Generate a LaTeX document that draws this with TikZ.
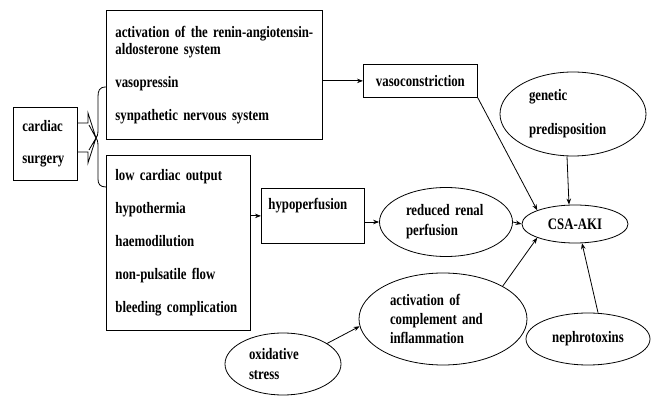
\documentclass[tikz,border=0pt]{standalone}
\usepackage{fontspec}
\setmainfont{Liberation Serif}[FakeStretch=0.8]
\usepackage{tikz}
\usetikzlibrary{shapes.geometric,arrows.meta}

\begin{document}
\begin{tikzpicture}[x=1pt,y=-1pt,line width=0.8pt,
    font=\fontsize{16}{17}\selectfont\bfseries,
    >={Stealth[length=6pt,width=4.5pt]}]
    \useasboundingbox (0,0) rectangle (657,398);

    % Draw the boxes on the left
    \begin{scope}[every node/.style={rectangle,draw,align=left,anchor=north west,inner xsep=9pt,inner ysep=4pt}]
        \node[minimum height=73pt,text width=46pt] (cs) at (13,107) {cardiac\\[15pt]surgery};
        \node[minimum height=129pt,text width=198pt] (raas) at (106,10)
            {activation of the renin-angiotensin-\\aldosterone system\\[16pt]vasopressin\\[16pt]synpathetic nervous system};
        \node[minimum height=175pt,text width=126pt] (list) at (106,155)
            {low cardiac output\\[16pt]hypothermia\\[16pt]haemodilution\\[16pt]non-pulsatile flow\\[16pt]bleeding complication};
        \node[align=center,minimum width=114pt,minimum height=33pt] (vaso) at (363,64) {vasoconstriction};
        \node[inner xsep=7pt,inner ysep=8pt,text width=89pt,text height=13pt,text depth=26pt] (hypo) at (261,188) {hypoperfusion};
    \end{scope}

    % Draw the ellipses
    \begin{scope}[every node/.style={ellipse,draw,inner sep=0pt,align=left}]
        \node[minimum width=146pt,minimum height=84pt,text width=88pt] (gen) at (573,114) {genetic\\[17pt]predisposition};
        \node[minimum width=106pt,minimum height=38pt] (aki) at (575,224) {CSA-AKI};
        \node[minimum width=133pt,minimum height=69pt,text width=80pt] (red) at (446,222) {reduced renal\\[3pt]perfusion};
        \node[minimum width=168pt,minimum height=92pt,text width=106pt] (act) at (443,319) {activation of\\[2pt]complement and\\[2pt]inflammation};
        \node[minimum width=124pt,minimum height=52pt] (nephro) at (588,339) {nephrotoxins};
        \node[minimum width=116pt,minimum height=62pt,text width=68pt] (oxid) at (283,364) {oxidative\\[3pt]stress};
    \end{scope}

    % Brace in front of the two lists
    \coordinate (tip) at (96,138);
    \draw (106,87) .. controls (99,87) and (98,91) .. (98,97) -- (98,130)
        .. controls (98,135) and (97,137) .. (tip) .. controls (97,139) and (98,141) .. (98,146)
        -- (98,179) .. controls (98,184) and (100,187) .. (106,187);
    \draw (cs.east |- 0,123) -- (88,123) -- (88,113) -- (tip) -- (89,125);
    \draw (cs.east |- 0,152) -- (88,152) -- (88,163) -- (tip) -- (89,150);

    % Arrows towards CSA-AKI
    \draw[->] (raas.east |- vaso.west) -- (vaso.west);
    \draw[->] (vaso.south east) -- (aki.north west);
    \draw[->] ([xshift=-6pt]gen.south) -- ([xshift=-6pt]aki.north);
    \draw[->] (list.east |- hypo.west) -- (hypo.west);
    \draw[->] (hypo.east |- red.west) -- (red.west);
    \draw[->] (red.east) -- (aki.west);
    \draw[->] (act.north east) -- (aki.south west);
    \draw[->] ([xshift=10pt]nephro.north) -- (aki.290);
    \draw[->] (oxid.25) -- (act.185);
\end{tikzpicture}
\end{document}
